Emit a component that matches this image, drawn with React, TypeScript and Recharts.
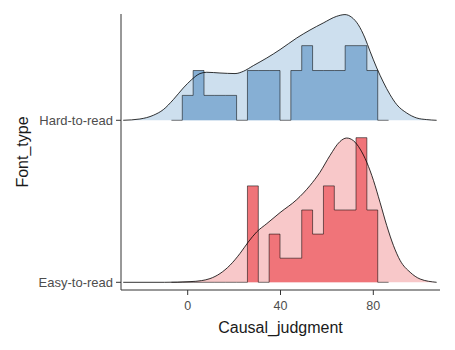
import React from 'react';
import { ComposedChart, Area, Line, XAxis, YAxis, Label } from 'recharts';

// ---- data ----
const categories = ['Easy-to-read', 'Hard-to-read'];
const xTicks = [0, 40, 80];

// histogram bins (shared grid)
const binStart = -7.01;
const binWidth = 4.68;
const hardCounts = [0, 1, 2, 1, 1, 1, 0, 2, 2, 2, 0, 2, 3, 2, 2, 2, 3, 3, 2, 0];
const easyCounts = [0, 0, 0, 0, 0, 0, 0, 4, 0, 2, 1, 1, 3, 2, 4, 3, 3, 6, 3, 0];

// kernel density estimates
const hardDensityX = [-27.8, -20.6, -14.8, -10.5, -6.2, -1.9, 1.7, 5.3, 8.2, 13.9, 20.4, 24.0, 28.3, 34.1, 39.8, 47.0, 52.7, 58.4, 64.2, 67.8, 70.7, 73.5, 76.4, 78.6, 81.5, 84.3, 87.2, 90.1, 94.4, 98.7, 103.0, 107.3];
const hardDensity = [0, 0.00036, 0.00139, 0.00296, 0.00573, 0.00895, 0.01127, 0.01294, 0.0133, 0.0131, 0.01294, 0.01357, 0.01515, 0.01726, 0.01958, 0.0228, 0.025, 0.02695, 0.0288, 0.02928, 0.02853, 0.0265, 0.0228, 0.01911, 0.01449, 0.01061, 0.00712, 0.00435, 0.00202, 0.00064, 0.00019, 0];
const easyDensityX = [-27.8, -10, 1.0, 6.0, 9.6, 13.9, 18.2, 22.5, 26.1, 29.7, 34.1, 39.8, 47.0, 52.7, 57.0, 61.3, 65.6, 68.5, 71.4, 74.3, 77.2, 80.1, 82.9, 85.8, 88.7, 91.6, 95.9, 100.2, 107.3];
const easyDensity = [0, 0, 0.00019, 0.00047, 0.00102, 0.00241, 0.00471, 0.00795, 0.01116, 0.01393, 0.01626, 0.01931, 0.02291, 0.02679, 0.03047, 0.0351, 0.03898, 0.03997, 0.03925, 0.03693, 0.03324, 0.02817, 0.02216, 0.01571, 0.01017, 0.00601, 0.00277, 0.00091, 0];

// ---- rendering parameters ----
const DENSITY_SCALE = 22.28; // ridge height (category units) per density unit
const FONT = '"Liberation Sans", Arial, Helvetica, sans-serif';

type Pt = { x: number; range: [number, number]; hi: number };

function histData(counts: number[], base: number): Pt[] {
  const n = counts.reduce((a, b) => a + b, 0);
  const pts: Pt[] = counts.map((c, i) => {
    const hi = base + (c / (n * binWidth)) * DENSITY_SCALE;
    return { x: binStart + i * binWidth, range: [base, hi], hi };
  });
  pts.push({ x: binStart + counts.length * binWidth, range: [base, base], hi: base });
  return pts;
}

function densData(xs: number[], ds: number[], base: number): Pt[] {
  return xs.map((x, i) => {
    const hi = base + ds[i] * DENSITY_SCALE;
    return { x, range: [base, hi], hi };
  });
}

const groups = [
  {
    name: categories[1],
    hist: histData(hardCounts, 1),
    dens: densData(hardDensityX, hardDensity, 1),
    densFill: '#CDDFEE',
    histFill: '#86AFD4',
  },
  {
    name: categories[0],
    hist: histData(easyCounts, 0),
    dens: densData(easyDensityX, easyDensity, 0),
    densFill: '#F8C8C9',
    histFill: '#F07479',
  },
];

const YTitle = (props: any) => {
  const vb = props.viewBox || { x: 0, y: 14, width: 121, height: 276 };
  const cx = vb.x + 28;
  const cy = vb.y + vb.height / 2;
  return (
    <text x={cx} y={cy} transform={`rotate(-90 ${cx} ${cy})`} textAnchor="middle" fontSize={16} fill="#1a1a1a" fontFamily={FONT}>
      Font_type
    </text>
  );
};

const XTitle = (props: any) => {
  const vb = props.viewBox || { x: 121, y: 290, width: 319, height: 30 };
  const cx = vb.x + vb.width / 2;
  const cy = vb.y + 43.3;
  return (
    <text x={cx} y={cy} textAnchor="middle" fontSize={16} fill="#1a1a1a" fontFamily={FONT}>
      Causal_judgment
    </text>
  );
};

export default function App() {
  const series: React.ReactNode[] = [];
  groups.forEach((g) => {
    series.push(
      <Area key={g.name + '-df'} data={g.dens} dataKey="range" type="monotone" fill={g.densFill} fillOpacity={1} stroke="none" isAnimationActive={false} dot={false} activeDot={false} />
    );
    series.push(
      <Area key={g.name + '-hf'} data={g.hist} dataKey="range" type="stepAfter" fill={g.histFill} fillOpacity={1} stroke="none" isAnimationActive={false} dot={false} activeDot={false} />
    );
    series.push(
      <Line key={g.name + '-hl'} data={g.hist} dataKey="hi" type="stepAfter" stroke="#000" strokeOpacity={0.6} strokeWidth={0.9} dot={false} activeDot={false} isAnimationActive={false} />
    );
    series.push(
      <Line key={g.name + '-dl'} data={g.dens} dataKey="hi" type="monotone" stroke="#000" strokeWidth={0.8} dot={false} activeDot={false} isAnimationActive={false} />
    );
  });

  return (
    <div style={{ position: 'absolute', left: 0, top: 0 }}>
      <ComposedChart width={455} height={350} margin={{ top: 14, right: 15, bottom: 30, left: 0 }}>
        <XAxis
          dataKey="x"
          type="number"
          domain={[-28.75, 108.75]}
          ticks={xTicks}
          allowDataOverflow
          tickSize={5}
          tickMargin={6}
          height={30}
          axisLine={{ stroke: '#333', strokeWidth: 1 }}
          tickLine={{ stroke: '#333', strokeWidth: 1 }}
          tick={{ fill: '#4D4D4D', fontSize: 12.5, fontFamily: FONT }}
        >
          <Label content={XTitle} />
        </XAxis>
        <YAxis
          type="number"
          domain={[-0.0475, 1.656]}
          ticks={[0, 1]}
          allowDataOverflow
          width={121}
          tickSize={5}
          tickMargin={3}
          tickFormatter={(v: number) => categories[v]}
          axisLine={{ stroke: '#333', strokeWidth: 1 }}
          tickLine={{ stroke: '#333', strokeWidth: 1 }}
          tick={{ fill: '#4D4D4D', fontSize: 13, fontFamily: FONT }}
        >
          <Label content={YTitle} />
        </YAxis>
        {series}
      </ComposedChart>
    </div>
  );
}
